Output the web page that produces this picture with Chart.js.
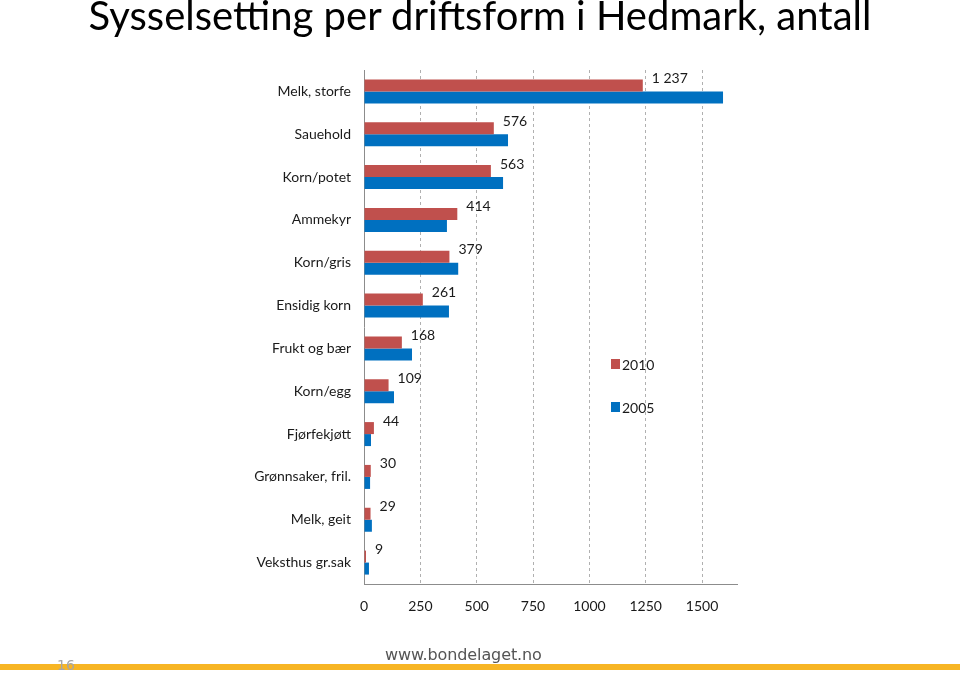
<!DOCTYPE html>
<html>
<head>
<meta charset="utf-8">
<script src="https://cdn.jsdelivr.net/npm/chart.js@4/dist/chart.umd.min.js"></script>
<style>
  html, body { margin: 0; padding: 0; background: #fff; }
  #wrap { position: relative; width: 960px; height: 696px; overflow: hidden; }
  #title {
    position: absolute; left: 0; width: 960px; top: -9px;
    text-align: center; font-family: Lato, sans-serif; font-size: 40px; color: #000;
    white-space: nowrap;
  }
  #bar { position: absolute; left: 0; top: 664px; width: 960px; height: 6px; background: #F7B524; }
  #page { position: absolute; left: 57px; top: 657px; font-family: "DejaVu Sans", sans-serif; font-size: 14px; color: #a6a6a6; }
  #site { position: absolute; left: 385px; top: 645px; font-family: "DejaVu Sans", sans-serif; font-size: 16px; color: #555; letter-spacing: -0.1px; }
  canvas { position: absolute; left: 0; top: 0; }
</style>
</head>
<body>
<div id="wrap">
  <canvas id="chart" width="960" height="696"></canvas>
  <div id="title">Sysselsetting per driftsform i Hedmark, antall</div>
  <div id="bar"></div>
  <div id="page">16</div>
  <div id="site">www.bondelaget.no</div>
</div>
<script>
// ================== DATA ==================
const categories = ['Melk, storfe', 'Sauehold', 'Korn/potet', 'Ammekyr', 'Korn/gris', 'Ensidig korn',
  'Frukt og bær', 'Korn/egg', 'Fjørfekjøtt', 'Grønnsaker, fril.', 'Melk, geit', 'Veksthus gr.sak'];
const values2010 = [1237, 576, 563, 414, 379, 261, 168, 109, 44, 30, 29, 9];
const values2005 = [1593, 639, 617, 368, 418, 377, 213, 133, 31, 27, 35, 22];
const seriesNames = ['2010', '2005'];
const xTicks = [0, 250, 500, 750, 1000, 1250, 1500];

const RED = '#C0504D';
const BLUE = '#0070C0';
const FONT = 'Lato, sans-serif';

// thousands with space, e.g. "1 237"
function fmt(v) {
  return String(v).replace(/\B(?=(\d{3})+(?!\d))/g, ' ');
}

// ================== PLUGINS ==================
const valueLabels = {
  id: 'valueLabels',
  afterDatasetsDraw(chart) {
    const ctx = chart.ctx;
    const meta = chart.getDatasetMeta(0);
    ctx.save();
    ctx.font = '14px ' + FONT;
    ctx.fillStyle = '#1a1a1a';
    ctx.textAlign = 'left';
    ctx.textBaseline = 'middle';
    meta.data.forEach((bar, i) => {
      ctx.fillText(fmt(chart.data.datasets[0].data[i]), bar.x + 9, bar.y - 7);
    });
    ctx.restore();
  }
};

const sideLegend = {
  id: 'sideLegend',
  afterDraw(chart) {
    const ctx = chart.ctx;
    const x = 611, y0 = 364, gap = 43;
    ctx.save();
    ctx.font = '14px ' + FONT;
    ctx.textBaseline = 'middle';
    ctx.textAlign = 'left';
    chart.data.datasets.forEach((ds, i) => {
      const y = y0 + i * gap;
      ctx.fillStyle = ds.backgroundColor;
      ctx.fillRect(x, y - 5, 9, 10);
      ctx.fillStyle = '#1a1a1a';
      ctx.fillText(ds.label, x + 11, y + 1);
    });
    ctx.restore();
  }
};

// ================== CHART ==================
new Chart(document.getElementById('chart'), {
  type: 'bar',
  data: {
    labels: categories,
    datasets: [
      { label: seriesNames[0], data: values2010, backgroundColor: RED },
      { label: seriesNames[1], data: values2005, backgroundColor: BLUE }
    ]
  },
  options: {
    indexAxis: 'y',
    responsive: false,
    animation: false,
    categoryPercentage: 0.56,
    barPercentage: 1.0,
    layout: { padding: { left: 0, right: 223, top: 70, bottom: 72 } },
    plugins: {
      legend: { display: false },
      title: { display: false },
      tooltip: { enabled: false }
    },
    scales: {
      x: {
        min: 0,
        max: 1655,
        afterBuildTicks(scale) {
          scale.ticks = xTicks.map(v => ({ value: v }));
        },
        afterFit(scale) { scale.height = 40; },
        grid: {
          color: ctx => ctx.tick && ctx.tick.value === 0 ? 'rgba(0,0,0,0)' : '#b0b0b0',
          drawTicks: false,
          lineWidth: 1
        },
        border: { display: true, color: '#8c8c8c', dash: [3, 3] },
        ticks: {
          font: { family: FONT, size: 14 },
          color: '#1a1a1a',
          padding: 14,
          callback: v => String(v)
        }
      },
      y: {
        afterFit(scale) { scale.width = 364; },
        grid: { display: false, drawTicks: false },
        border: { display: true, color: '#8c8c8c' },
        ticks: {
          font: { family: FONT, size: 14 },
          color: '#1a1a1a',
          padding: 13
        }
      }
    }
  },
  plugins: [valueLabels, sideLegend]
});
</script>
</body>
</html>
